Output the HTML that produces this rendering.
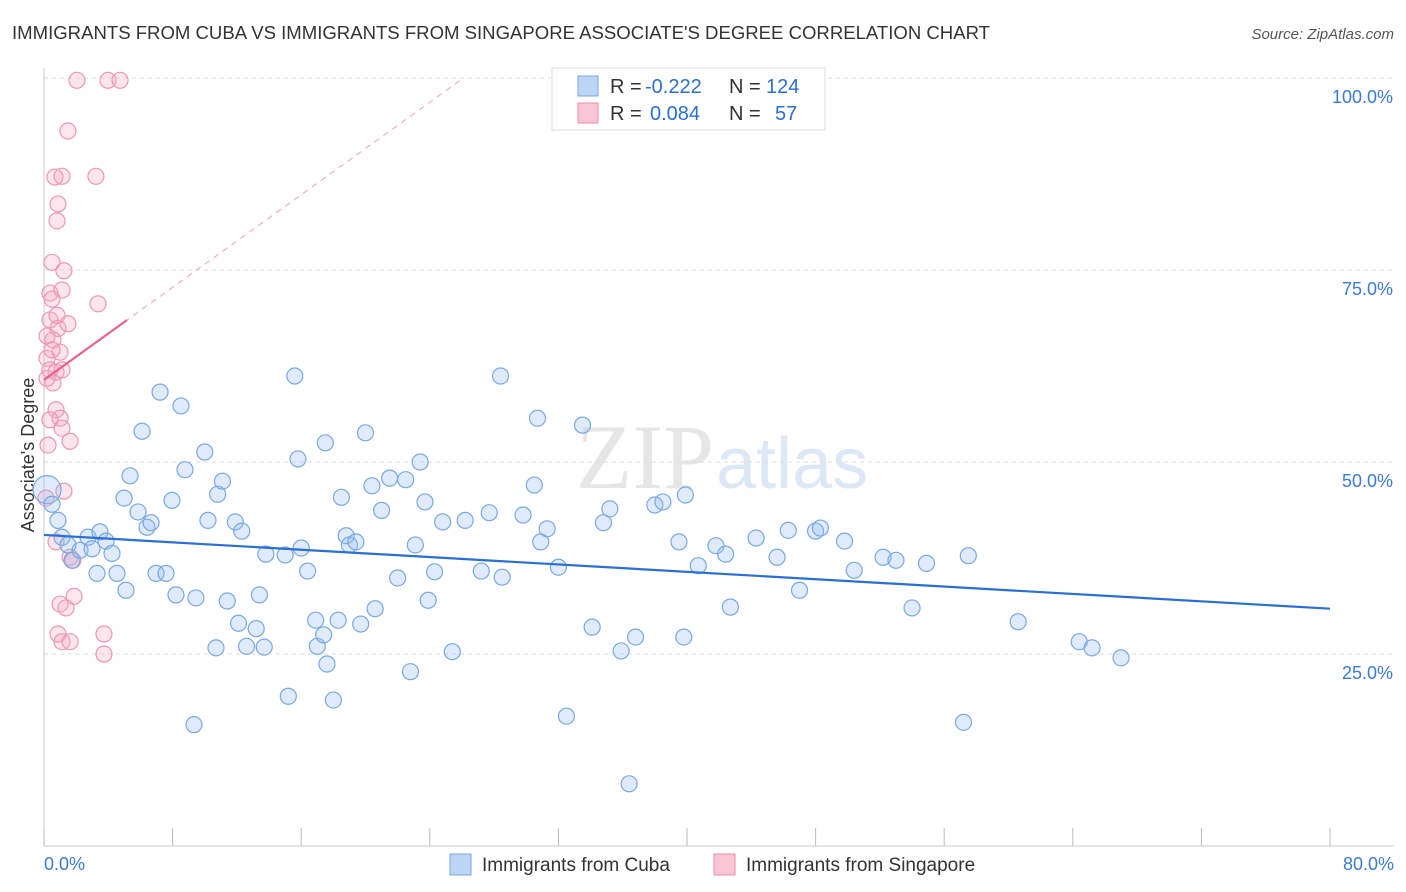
<!DOCTYPE html>
<html><head><meta charset="utf-8"><style>
body{margin:0;background:#fff;font-family:"Liberation Sans",sans-serif;}
#wrap{position:relative;width:1406px;height:892px;overflow:hidden;}
</style></head><body>
<div id="wrap">
<svg id="svg" width="1406" height="892">
<text x="12" y="39" font-size="18" fill="#333" textLength="978" lengthAdjust="spacingAndGlyphs">IMMIGRANTS FROM CUBA VS IMMIGRANTS FROM SINGAPORE ASSOCIATE'S DEGREE CORRELATION CHART</text>
<text x="1394" y="39" font-size="15" fill="#555" font-style="italic" text-anchor="end">Source: ZipAtlas.com</text>
<text x="714" y="488" font-size="92" fill="#e6e6e6" text-anchor="end" font-family="Liberation Serif">ZIP</text>
<text x="716" y="488" font-size="72" fill="#dde8f6">atlas</text>
<text transform="translate(34,455) rotate(-90)" font-size="18" fill="#333" text-anchor="middle">Associate's Degree</text>
<g id="grid"></g><g id="marks"></g>
<g>
<rect x="552" y="68" width="273" height="62" fill="#fff" stroke="#ddd"/>
<rect x="578" y="76" width="20" height="20" fill="#bcd4f5" stroke="#7aa7e0"/>
<rect x="578" y="103" width="20" height="20" fill="#f9c6d6" stroke="#ea8eae"/>
<text x="610" y="93" font-size="20" fill="#333">R =</text>
<text x="645" y="93" font-size="20" fill="#2a6fd6">-0.222</text>
<text x="729" y="93" font-size="20" fill="#333">N =</text>
<text x="766" y="93" font-size="20" fill="#2a6fd6">124</text>
<text x="610" y="120" font-size="20" fill="#333">R =</text>
<text x="650" y="120" font-size="20" fill="#2a6fd6">0.084</text>
<text x="729" y="120" font-size="20" fill="#333">N =</text>
<text x="775" y="120" font-size="20" fill="#2a6fd6">57</text>
</g>
<g>
<rect x="450" y="854" width="21" height="21" fill="#bcd4f5" stroke="#7aa7e0"/>
<text x="482" y="871" font-size="19" fill="#333">Immigrants from Cuba</text>
<rect x="714" y="854" width="21" height="21" fill="#f9c6d6" stroke="#ea8eae"/>
<text x="746" y="871" font-size="19" fill="#333">Immigrants from Singapore</text>
</g>
</svg></div>
<script>
const yTicks=[25,50,75,100];
const yTickLabels=["25.0%","50.0%","75.0%","100.0%"];
const xTickLabels=["0.0%","80.0%"];
const cubaX=[0.19,0.5,0.87,1.12,1.49,1.74,2.24,2.74,2.99,3.48,3.86,4.23,3.3,4.54,4.98,5.1,5.35,5.85,6.1,6.41,6.66,6.97,7.22,7.59,7.96,8.21,8.52,8.77,9.33,9.45,10.0,10.2,10.7,10.8,11.1,11.4,11.9,12.1,12.3,12.6,13.2,13.4,13.7,13.8,15.0,15.2,15.6,15.8,16.0,16.4,16.9,17.0,17.4,17.5,17.6,18.0,18.3,18.5,18.8,19.0,19.4,19.7,20.0,20.4,20.6,21.0,21.5,22.0,22.5,22.8,23.1,23.4,23.7,23.9,24.3,24.8,25.4,26.2,27.2,27.7,28.4,28.5,29.8,30.5,30.7,30.9,31.3,32.0,32.5,33.5,34.1,34.8,35.2,35.9,36.8,38.0,38.5,39.5,39.8,39.9,40.7,41.8,42.4,42.7,44.3,45.6,46.3,47.0,48.0,48.3,49.8,50.4,52.2,53.0,54.0,54.9,57.2,57.5,60.6,64.4,65.2,67.0,36.4];
const cubaY=[46.4,44.5,42.4,40.2,39.2,37.2,38.5,40.2,38.7,40.9,39.7,38.1,35.5,35.5,45.3,33.3,48.2,43.5,54.0,41.5,42.1,35.5,59.1,35.5,45.0,32.7,57.3,49.0,15.8,32.3,51.3,42.4,25.8,45.8,47.5,31.9,42.2,29.0,41.0,26.0,28.3,32.7,25.9,38.0,37.9,19.5,61.2,50.4,38.8,35.8,29.4,26.0,27.5,52.5,23.7,19.0,29.4,45.4,40.4,39.2,39.6,28.9,53.8,46.9,30.9,43.7,47.9,34.9,47.7,22.7,39.2,50.0,44.8,32.0,35.7,42.2,25.3,42.4,35.8,43.4,61.2,35.0,43.1,47.0,55.7,39.6,41.3,36.3,16.9,54.8,28.5,42.1,43.9,25.4,27.2,44.4,44.8,39.6,27.2,45.7,36.5,39.1,38.0,31.1,40.1,37.6,41.1,33.3,41.0,41.4,39.7,35.9,37.6,37.2,31.0,36.8,16.1,37.8,29.2,26.6,25.8,24.5,8.1];
const singX=[2.05,3.98,4.73,1.49,0.68,1.12,3.23,0.87,0.81,0.5,1.24,0.37,1.12,3.36,0.5,0.37,0.87,1.49,0.19,0.56,1.0,0.19,0.37,0.75,1.12,0.56,0.19,0.75,1.0,0.37,1.12,1.62,0.25,1.24,0.12,0.75,1.62,1.8,1.0,1.37,1.87,0.87,1.12,1.62,3.73,3.73,0.81,0.5];
const singY=[99.7,99.7,99.7,93.1,87.1,87.2,87.2,83.6,81.4,76.0,74.9,72.0,72.4,70.6,71.2,68.5,67.4,68.0,66.4,65.9,64.3,63.5,62.0,61.7,62.0,60.3,60.9,56.8,55.7,55.5,54.4,52.7,52.2,46.2,45.3,39.6,37.6,37.2,31.5,31.0,32.5,27.6,26.6,26.6,27.6,25.0,69.1,64.6];
const cubaTrend=[40.5,30.9];
const singTrend=[60.7,1.506];
const X0=44,X1=1330,Y0=846,Y100=78;
const sx=v=>X0+(v/80)*(X1-X0), sy=v=>Y0-(v/100)*(Y0-Y100);
const NS="http://www.w3.org/2000/svg";
function mk(t,a,p){const e=document.createElementNS(NS,t);for(const k in a)e.setAttribute(k,a[k]);p.appendChild(e);return e;}
const grid=document.getElementById('grid'),marks=document.getElementById('marks');
yTicks.forEach((t,i)=>{
 const l=mk('line',{x1:X0,x2:1394,y1:sy(t),y2:sy(t),stroke:'#ddd','stroke-dasharray':'4,4'},grid);
 
 
 const tx=mk('text',{x:1393,y:sy(t)+25,'font-size':18,fill:'#3a7bd5','text-anchor':'end'},grid);
 tx.textContent=yTickLabels[i];
 
 
});
mk('line',{x1:X0,x2:X0,y1:68,y2:Y0,stroke:'#ccc'},grid);
mk('line',{x1:X0,x2:1394,y1:Y0,y2:Y0,stroke:'#ccc'},grid);
for(let i=0;i<=10;i++){const x=sx(i*8);const t=mk('line',{x1:x,x2:x,y1:Y0-18,y2:Y0,stroke:'#bbb'},grid);}
[[0,'start',44],[80,'end',1394]].forEach((d,i)=>{const t=mk('text',{x:d[2],y:870,'font-size':18,fill:'#3a7bd5','text-anchor':d[1]},grid);t.textContent=xTickLabels[i];});
singX.forEach((x,i)=>{const c=mk('circle',{cx:sx(x),cy:sy(singY[i]),r:8,fill:'rgba(245,170,195,0.3)',stroke:'#ec97b5','stroke-width':1.2},marks);
 
 });
cubaX.forEach((x,i)=>{const c=mk('circle',{cx:sx(x),cy:sy(cubaY[i]),r:i==0?14:8,fill:'rgba(150,190,240,0.3)',stroke:'#79a8e2','stroke-width':1.2},marks);
 
 });
const bl=mk('line',{x1:sx(0),y1:sy(cubaTrend[0]),x2:sx(80),y2:sy(cubaTrend[1]),stroke:'#2a6fd6','stroke-width':2.2},marks);


const xe=(100-singTrend[0])/singTrend[1];
const pd=mk('line',{x1:sx(0),y1:sy(singTrend[0]),x2:sx(xe),y2:sy(100),stroke:'#eeb0c4','stroke-width':1.2,'stroke-dasharray':'6,5'},marks);


const pl=mk('line',{x1:sx(0),y1:sy(singTrend[0]),x2:sx(5.16),y2:sy(singTrend[0]+singTrend[1]*5.16),stroke:'#e8638e','stroke-width':2.2},marks);


</script>
</body></html>
